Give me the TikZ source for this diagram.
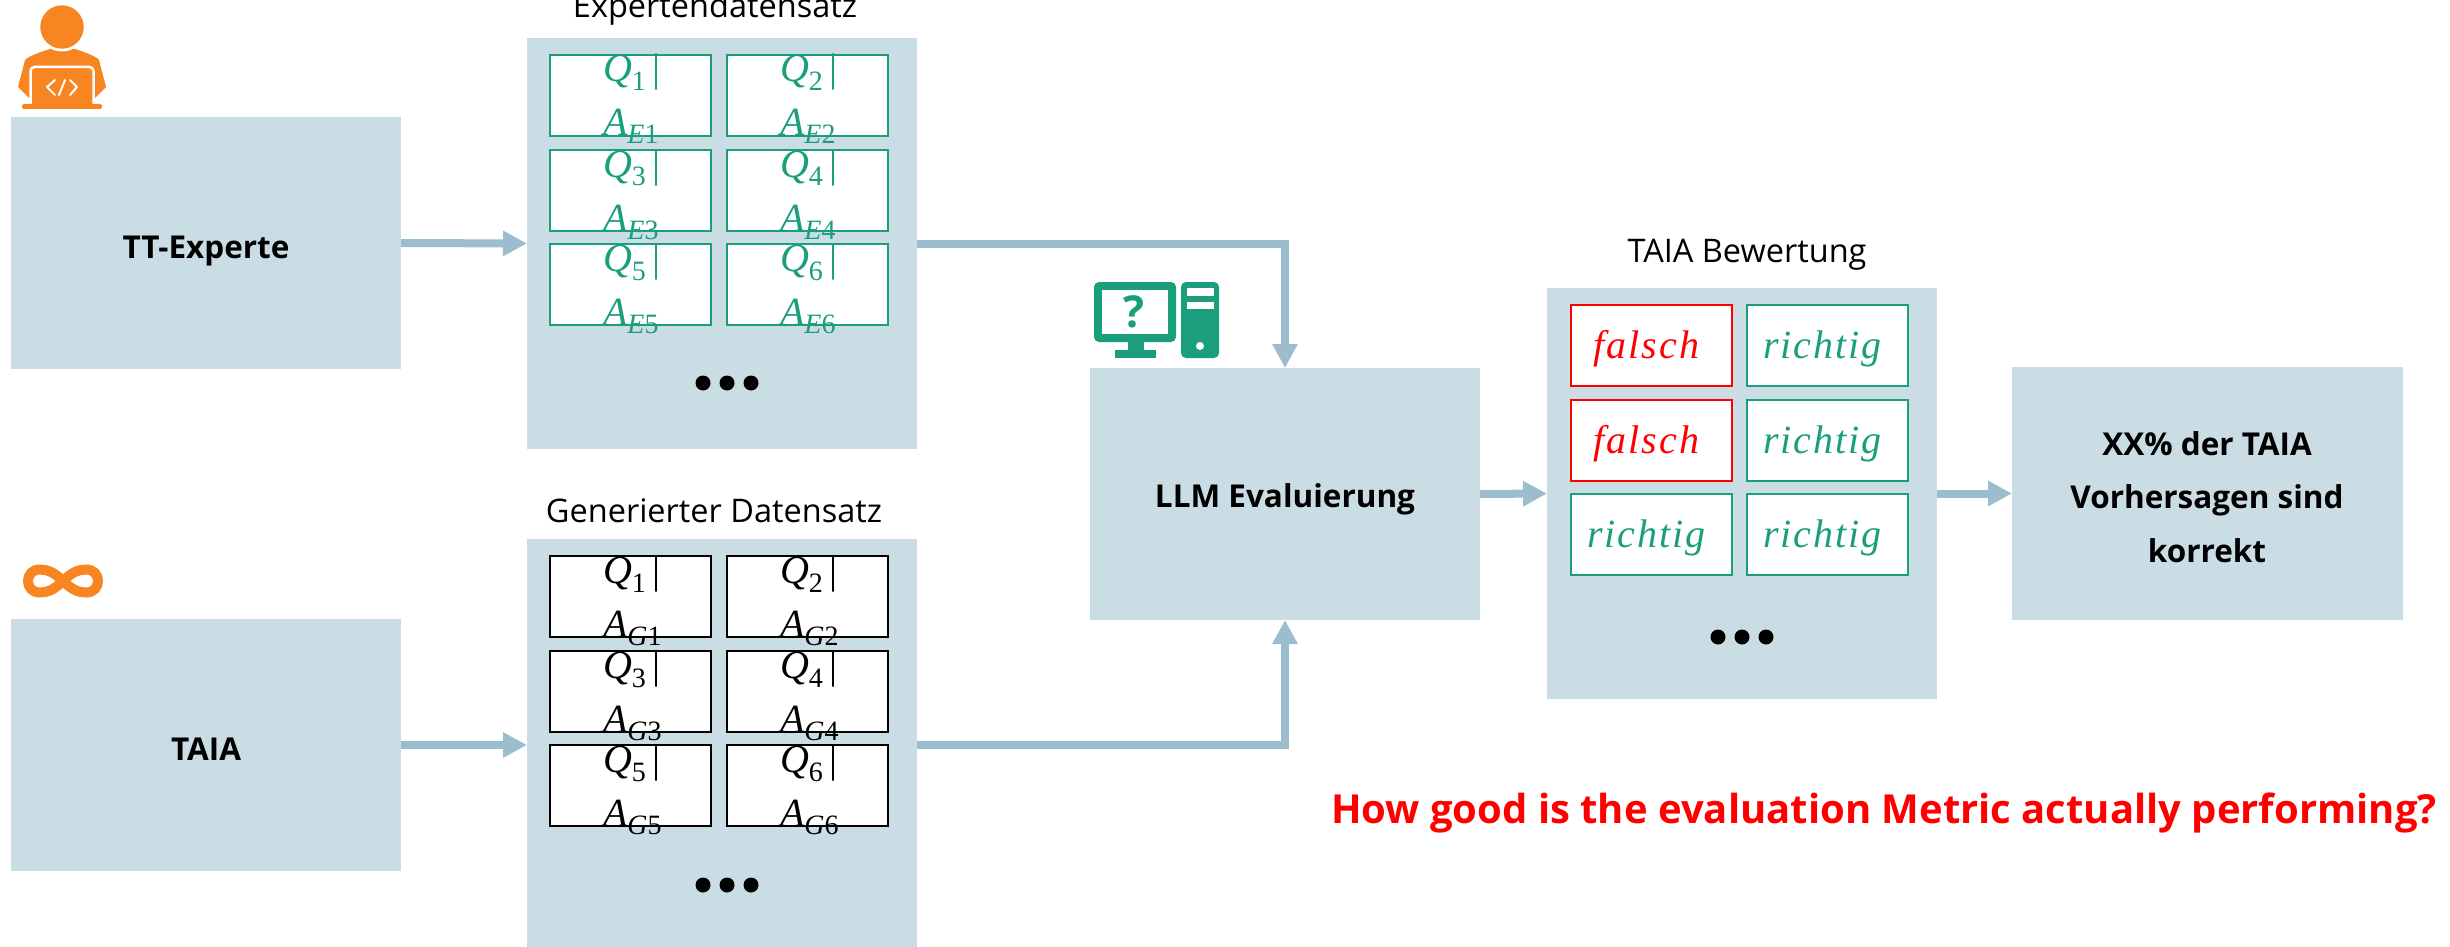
\documentclass[tikz,border=0pt]{standalone}
\usepackage{fontspec}
\setmainfont{Open Sans}
\newfontfamily\mif[LetterSpace=5]{Liberation Serif}
\usetikzlibrary{arrows.meta}
\definecolor{panelc}{HTML}{CADDE5}
\definecolor{arrowc}{HTML}{9CBDCE}
\definecolor{greenc}{HTML}{1A9E7C}
\definecolor{orangec}{HTML}{F68522}
\definecolor{redc}{HTML}{FF0000}
\newcommand{\mibig}{\fontsize{40}{40}\selectfont\mif\itshape}
\newcommand{\misub}{\fontsize{28}{28}\selectfont\mif}
\newcommand{\qabox}[6]{%
  \node[cell,draw=#6] (#1) at (#2,#3) {};
  \node[mtext,text=#6] (#1q) at ([xshift=53pt,yshift=-27pt]#1.north west)
    {\mibig Q\raisebox{-9pt}{\misub\upshape #4}{\upshape\,|}};
  \node[mtext,text=#6] (#1a) at ([xshift=53pt,yshift=-81pt]#1.north west)
    {\mibig A\raisebox{-8pt}{\misub\itshape #5{\upshape #4}}};
}
\newcommand{\wordbox}[5]{%
  \node[cell,draw=#5] (#1) at (#2,#3) {};
  \node[mtext,text=#5,anchor=base] (#1t) at ([xshift=-5pt,yshift=-53pt]#1.north) {\mibig #4};
}
\tikzset{
  panel/.style={fill=panelc,draw=none,anchor=north west,inner sep=0pt,outer sep=0pt},
  cell/.style={fill=white,line width=2pt,anchor=north west,minimum width=161pt,minimum height=81pt,inner sep=0pt,outer sep=0pt},
  mtext/.style={anchor=base west,inner sep=0pt,outer sep=0pt},
  boldlab/.style={anchor=base,inner sep=0pt,font=\fontsize{31.5}{31.5}\selectfont\bfseries},
  title/.style={anchor=base,inner sep=0pt,font=\fontsize{32.5}{32.5}\selectfont},
  flow/.style={draw=arrowc,line width=8pt,-{Triangle[length=24pt,width=24pt]}},
  flowbend/.style={flow,rounded corners=0pt},
  ddot/.style={circle,fill=black,minimum size=15pt,inner sep=0pt},
}
\begin{document}
\begin{tikzpicture}[x=1pt,y=-1pt]
\useasboundingbox (0,0) rectangle (2450,947);
% panels
\node[panel,minimum width=390pt,minimum height=252pt] (tt) at (11,117) {};
\node[panel,minimum width=390pt,minimum height=252pt] (taia) at (11,619) {};
\node[panel,minimum width=390pt,minimum height=411pt] (exp) at (527,38) {};
\node[panel,minimum width=390pt,minimum height=408pt] (gen) at (527,539) {};
\node[panel,minimum width=390pt,minimum height=252pt] (llm) at (1090,368) {};
\node[panel,minimum width=390pt,minimum height=411pt] (bew) at (1547,288) {};
\node[panel,minimum width=391pt,minimum height=253pt] (res) at (2012,367) {};
% panel texts
\node[boldlab] (ttt) at (206,258) {TT-Experte};
\node[boldlab] (taiat) at (206,760) {TAIA};
\node[boldlab] (llmt) at (1285,507) {LLM Evaluierung};
\node[boldlab] (res1) at (2207,455) {XX\% der TAIA};
\node[boldlab] (res2) at (2207,508) {Vorhersagen sind};
\node[boldlab] (res3) at (2207,562) {korrekt};
\node[title] (expt) at (715,18) {Expertendatensatz};
\node[title] (gent) at (714,522) {Generierter Datensatz};
\node[title] (bewt) at (1747,262) {TAIA Bewertung};
\node[anchor=base,inner sep=0pt,text=redc,font=\fontsize{40}{40}\selectfont\bfseries] (ask) at (1884,823) {How good is the evaluation Metric actually performing?};
% expert cells
\qabox{e1}{550}{55}{1}{E}{greenc}
\qabox{e2}{727}{55}{2}{E}{greenc}
\qabox{e3}{550}{150}{3}{E}{greenc}
\qabox{e4}{727}{150}{4}{E}{greenc}
\qabox{e5}{550}{244}{5}{E}{greenc}
\qabox{e6}{727}{244}{6}{E}{greenc}
% generated cells
\qabox{g1}{550}{556}{1}{G}{black}
\qabox{g2}{727}{556}{2}{G}{black}
\qabox{g3}{550}{651}{3}{G}{black}
\qabox{g4}{727}{651}{4}{G}{black}
\qabox{g5}{550}{745}{5}{G}{black}
\qabox{g6}{727}{745}{6}{G}{black}
% verdict cells
\wordbox{b1}{1571}{305}{falsch}{redc}
\wordbox{b2}{1747}{305}{richtig}{greenc}
\wordbox{b3}{1571}{400}{falsch}{redc}
\wordbox{b4}{1747}{400}{richtig}{greenc}
\wordbox{b5}{1571}{494}{richtig}{greenc}
\wordbox{b6}{1747}{494}{richtig}{greenc}
% dots
\foreach \n/\x in {a/703,b/727,c/751}{
  \node[ddot] (ed\n) at (\x,383) {};
  \node[ddot] (gd\n) at (\x,885) {};
}
\foreach \n/\x in {a/1718,b/1742,c/1766}{
  \node[ddot] (bd\n) at (\x,637) {};
}
% connectors
\draw[flow] (tt.east) -- (exp.west);
\draw[flow] (taia.east) -- (taia.east -| gen.west);
\draw[flowbend] (exp.east) -| (llm.north);
\draw[flowbend] (taia.east -| gen.east) -| (llm.south);
\draw[flow] (llm.east) -- (bew.west);
\draw[flow] (bew.east) -- (res.west);
% person icon
\fill[orangec] (18,87) -- (25,60) .. controls (27,57) and (40,52) .. (50,49) -- (75,49) .. controls (85,52) and (97,57) .. (99,60) -- (106,87) -- (95,98) -- (29,98) -- cycle;
\fill[white] (62,27) circle[radius=24.5];
\fill[orangec] (62,27) circle[radius=21.7];
\draw[white,line width=2.5pt,fill=orangec,rounded corners=4pt] (30.5,105) -- (30.5,67) -- (93.5,67) -- (93.5,105);
\fill[orangec,rounded corners=2pt] (22,104) -- (102,104) -- (102,109) -- (22,109) -- cycle;
\draw[white,line width=2pt,line cap=round,line join=round] (55,80) -- (47,87) -- (55,95) (59,95) -- (65,80) (70,80) -- (77,87) -- (70,95);
% infinity icon
\draw[orangec,line width=10pt] (63,581) .. controls (72,572) and (79,569.5) .. (86,569.5) .. controls (94,569.5) and (98,575) .. (98,581) .. controls (98,587) and (94,592.5) .. (86,592.5) .. controls (79,592.5) and (72,590) .. (63,581) .. controls (54,572) and (47,569.5) .. (40,569.5) .. controls (32,569.5) and (28,575) .. (28,581) .. controls (28,587) and (32,592.5) .. (40,592.5) .. controls (47,592.5) and (54,590) .. (63,581) -- cycle;
% computer icon
\fill[greenc,rounded corners=5pt] (1094,282) rectangle (1176,342);
\fill[white] (1102,290) rectangle (1168,334);
\fill[greenc] (1128,340) rectangle (1144,352);
\fill[greenc] (1115,350) rectangle (1156,358);
\fill[greenc,rounded corners=5pt] (1181,282) rectangle (1219,358);
\fill[white] (1187,288) rectangle (1214,296);
\fill[white] (1187,302) rectangle (1214,309);
\fill[white] (1200,346) circle[radius=4];
\node[anchor=base,inner sep=0pt,text=greenc,font=\fontsize{44}{44}\selectfont\bfseries] (qm) at (1134,327) {?};
\end{tikzpicture}
\end{document}
